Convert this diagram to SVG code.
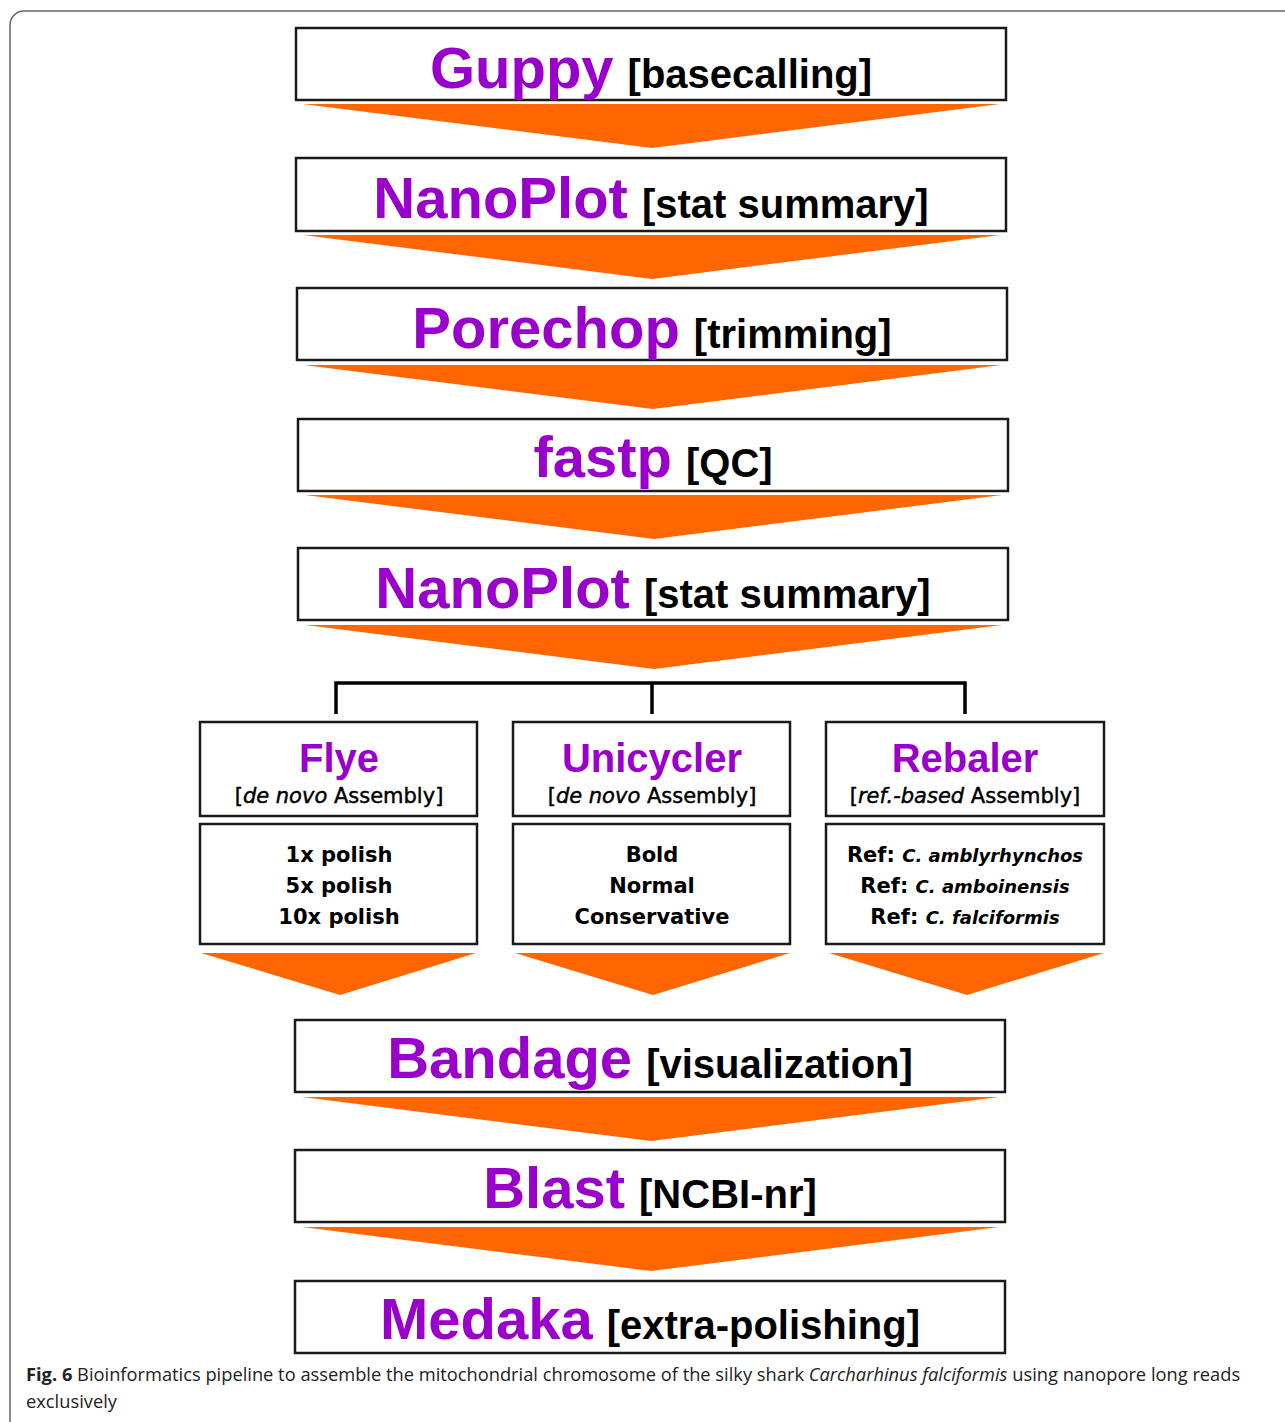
<svg xmlns="http://www.w3.org/2000/svg" width="1285" height="1422" viewBox="0 0 1285 1422">
<style>
.box{fill:#fff;stroke:#1a1a1a;stroke-width:2.5}
.arr{fill:#FF6600}
.t{font-family:"Liberation Sans",Arial,sans-serif;font-weight:bold;text-anchor:middle}
.p{fill:#9900CC}
.b{fill:#000}
.d{font-family:"DejaVu Sans",Verdana,sans-serif;text-anchor:middle;fill:#000}
.sub{stroke:#000;stroke-width:0.45}
.cap{font-family:"Open Sans","Noto Sans",sans-serif;font-size:18.3px;fill:#222}
.conn{fill:none;stroke:#000;stroke-width:3.5}
</style>
<rect x="10" y="11" width="1300" height="1440" rx="14" fill="#fff" stroke="#666" stroke-width="1.5"/>
<g id="connectors">
<polygon class="arr" points="303,104 1000,104 652,148"/>
<polygon class="arr" points="303,235 1000,235 652,279"/>
<polygon class="arr" points="304,365 1001,365 653,409"/>
<polygon class="arr" points="305,495 1002,495 654,539"/>
<polygon class="arr" points="305,625 1002,625 654,669"/>
<path class="conn" d="M336,714 V683 H965 V714 M652,683 V714"/>
<polygon class="arr" points="201,953 476,953 340,995"/>
<polygon class="arr" points="515,953 790,953 653,995"/>
<polygon class="arr" points="829,953 1104,953 967,995"/>
<polygon class="arr" points="302,1097 999,1097 651,1141"/>
<polygon class="arr" points="302,1227 999,1227 651,1271"/>
</g>
<g id="guppy"><rect class="box" x="296" y="28" width="710" height="72"/>
<text class="t" x="651" y="88"><tspan class="p" font-size="58">Guppy</tspan><tspan class="b" font-size="40" dx="14">[basecalling]</tspan></text></g>
<g id="nanoplot1"><rect class="box" x="296" y="158" width="710" height="73"/>
<text class="t" x="651" y="218"><tspan class="p" font-size="58">NanoPlot</tspan><tspan class="b" font-size="40" dx="14">[stat summary]</tspan></text></g>
<g id="porechop"><rect class="box" x="297" y="288" width="710" height="72"/>
<text class="t" x="652" y="348"><tspan class="p" font-size="58">Porechop</tspan><tspan class="b" font-size="40" dx="14">[trimming]</tspan></text></g>
<g id="fastp"><rect class="box" x="298" y="419" width="710" height="72"/>
<text class="t" x="653" y="477"><tspan class="p" font-size="58">fastp</tspan><tspan class="b" font-size="40" dx="14">[QC]</tspan></text></g>
<g id="nanoplot2"><rect class="box" x="298" y="548" width="710" height="72"/>
<text class="t" x="653" y="608"><tspan class="p" font-size="58">NanoPlot</tspan><tspan class="b" font-size="40" dx="14">[stat summary]</tspan></text></g>
<g id="flye"><rect class="box" x="200" y="722" width="277" height="94"/>
<text class="t p" x="339" y="772" font-size="40">Flye</text>
<text class="d sub" x="339" y="803" font-size="21">[<tspan font-style="italic">de novo</tspan> Assembly]</text></g>
<g id="flye-opts"><rect class="box" x="200" y="824" width="277" height="120"/>
<text class="d" x="339" y="862" font-size="21" font-weight="bold">1x polish</text>
<text class="d" x="339" y="893" font-size="21" font-weight="bold">5x polish</text>
<text class="d" x="339" y="924" font-size="21" font-weight="bold">10x polish</text></g>
<g id="unicycler"><rect class="box" x="513" y="722" width="277" height="94"/>
<text class="t p" x="652" y="772" font-size="40">Unicycler</text>
<text class="d sub" x="652" y="803" font-size="21">[<tspan font-style="italic">de novo</tspan> Assembly]</text></g>
<g id="unicycler-opts"><rect class="box" x="513" y="824" width="277" height="120"/>
<text class="d" x="652" y="862" font-size="21" font-weight="bold">Bold</text>
<text class="d" x="652" y="893" font-size="21" font-weight="bold">Normal</text>
<text class="d" x="652" y="924" font-size="21" font-weight="bold">Conservative</text></g>
<g id="rebaler"><rect class="box" x="826" y="722" width="278" height="94"/>
<text class="t p" x="965" y="772" font-size="40">Rebaler</text>
<text class="d sub" x="965" y="803" font-size="21">[<tspan font-style="italic">ref.-based</tspan> Assembly]</text></g>
<g id="rebaler-opts"><rect class="box" x="826" y="824" width="278" height="120"/>
<text class="d" x="965" y="862" font-size="21" font-weight="bold">Ref: <tspan font-style="italic" font-size="18">C. amblyrhynchos</tspan></text>
<text class="d" x="965" y="893" font-size="21" font-weight="bold">Ref: <tspan font-style="italic" font-size="18">C. amboinensis</tspan></text>
<text class="d" x="965" y="924" font-size="21" font-weight="bold">Ref: <tspan font-style="italic" font-size="18">C. falciformis</tspan></text></g>
<g id="bandage"><rect class="box" x="295" y="1020" width="710" height="72"/>
<text class="t" x="650" y="1078"><tspan class="p" font-size="58">Bandage</tspan><tspan class="b" font-size="40" dx="14">[visualization]</tspan></text></g>
<g id="blast"><rect class="box" x="295" y="1150" width="710" height="72"/>
<text class="t" x="650" y="1208"><tspan class="p" font-size="58">Blast</tspan><tspan class="b" font-size="40" dx="14">[NCBI-nr]</tspan></text></g>
<g id="medaka"><rect class="box" x="295" y="1281" width="710" height="72"/>
<text class="t" x="650" y="1339"><tspan class="p" font-size="58">Medaka</tspan><tspan class="b" font-size="40" dx="14">[extra-polishing]</tspan></text></g>
<text class="cap" x="26" y="1381"><tspan font-weight="bold">Fig. 6</tspan>  Bioinformatics pipeline to assemble the mitochondrial chromosome of the silky shark <tspan font-style="italic">Carcharhinus falciformis</tspan> using nanopore long reads</text>
<text class="cap" x="26" y="1408">exclusively</text>
</svg>
